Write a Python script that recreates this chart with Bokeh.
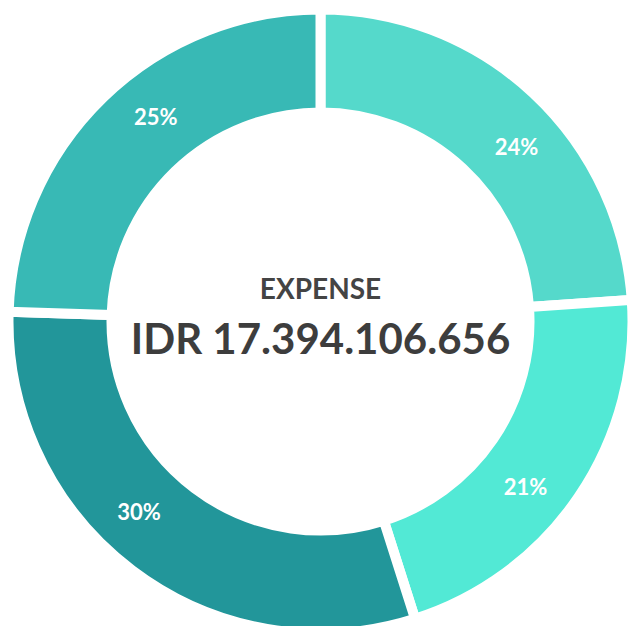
import numpy as np
from bokeh.plotting import figure
from bokeh.models import ColumnDataSource, Range1d
from bokeh.core.properties import value
from bokeh.embed import file_html
from bokeh.resources import INLINE

# ---- data ----
categories = ["Expense A", "Expense B", "Expense C", "Expense D"]
shares = [23.9, 21.2, 30.4, 24.5]
labels = ["24%", "21%", "30%", "25%"]
colors = ["#55d9cb", "#52e9d5", "#22969a", "#38b9b5"]
title_text = "EXPENSE"
total_text = "IDR 17.394.106.656"

# ---- layout ----
W, H = 630, 626
cx, cy = 320, H - 321
gap = 10
r_out = 307 + gap / 2
r_in = 214 - gap / 2
r_lab = 263

vals = np.array(shares, dtype=float)
frac = vals / vals.sum()
cum = np.concatenate([[0], np.cumsum(frac)])
start = np.pi / 2 - cum[:-1] * 2 * np.pi
end = np.pi / 2 - cum[1:] * 2 * np.pi
lab_ang = start - 0.56 * (start - end)

src = ColumnDataSource(dict(
    cat=categories, start=start, end=end, color=colors,
    lx=cx + r_lab * np.cos(lab_ang), ly=cy + r_lab * np.sin(lab_ang),
    label=labels,
))

p = figure(width=W, height=H, x_range=Range1d(0, W), y_range=Range1d(0, H),
           output_backend="svg", toolbar_location=None,
           x_axis_location=None, y_axis_location=None, min_border=0)
p.outline_line_color = None
p.grid.visible = False
p.background_fill_color = "white"
p.border_fill_color = "white"

p.annular_wedge(x=cx, y=cy, inner_radius=r_in, outer_radius=r_out,
                start_angle="start", end_angle="end", direction="clock",
                fill_color="color", line_color="white", line_width=gap,
                source=src)

p.text(x="lx", y="ly", text="label", source=src,
       text_font=value("Lato"), text_font_style="bold", text_font_size="22px",
       text_color="white", text_align="center", text_baseline="middle")

p.text(x=[cx], y=[H - 287], text=[title_text], text_font=value("Lato"),
       text_font_style="bold", text_font_size="28px", text_color="#444444",
       text_align="center", text_baseline="middle")
p.text(x=[cx], y=[H - 337], text=[total_text], text_font=value("Lato"),
       text_font_style="bold", text_font_size="42px", text_color="#3d3d3d",
       text_align="center", text_baseline="middle")

open("out.html", "w").write(file_html(p, INLINE))
